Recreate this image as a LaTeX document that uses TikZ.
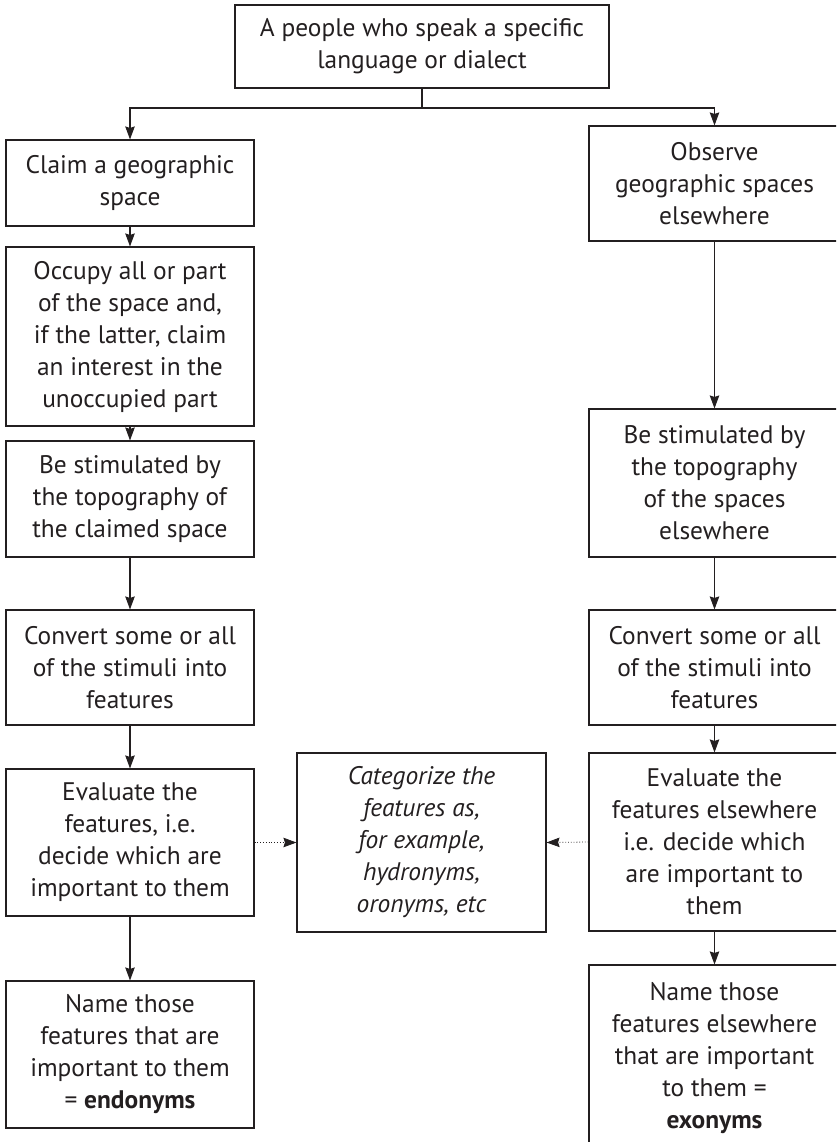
\documentclass[tikz,border=0pt]{standalone}
\usepackage{fontspec}
\setmainfont{PT Sans}
\usetikzlibrary{arrows.meta}
\definecolor{ink}{HTML}{231F20}
\begin{document}
\begin{tikzpicture}[x=1pt,y=-1pt,
  box/.style={draw=ink, line width=1.1pt, rectangle, inner sep=0pt, align=center,
    text=ink, font=\fontsize{25.4}{32}\selectfont, minimum width=248pt},
  rbox/.style={box, minimum width=251pt},
  arr/.style={draw=ink, line width=1.1pt, -{Stealth[length=13pt,width=9.5pt,inset=1.5pt]}},
  dotarr/.style={draw=ink, line width=0.8pt, dotted, -{Stealth[length=13pt,width=9.5pt,inset=1.5pt]}}
]
\useasboundingbox (0,0) rectangle (836,1142);
\clip (0,0) rectangle (836,1142);
% top
\node[box, minimum width=374pt, minimum height=83pt] (top) at (422,46.5)
  {A people who speak a specific\\language or dialect};
\coordinate (br) at (422,108);
% left column
\node[box, minimum height=86pt]  (L1) at (130,183)   {Claim a geographic\\space};
\node[box, minimum height=179pt] (L2) at (130,336.5) {Occupy all or part\\of the space and,\\if the latter, claim\\an interest in the\\unoccupied part};
\node[box, minimum height=116pt] (L3) at (130,499)   {Be stimulated by\\the topography of\\the claimed space};
\node[box, minimum height=115pt] (L4) at (130,667.5) {Convert some or all\\of the stimuli into\\features};
\node[box, minimum height=147pt] (L5) at (130,842.5) {Evaluate the\\features, i.e.\\decide which are\\important to them};
\node[box, minimum height=147pt] (L6) at (130,1054.5) {Name those\\features that are\\important to them\\= \textbf{endonyms}};
% right column
\node[rbox, minimum height=115pt] (R1) at (714.5,183.5) {Observe\\geographic spaces\\elsewhere};
\node[rbox, minimum height=148pt] (R2) at (714.5,483)   {Be stimulated by\\the topography\\of the spaces\\elsewhere};
\node[rbox, minimum height=115pt] (R3) at (714.5,667.5) {Convert some or all\\of the stimuli into\\features};
\node[rbox, minimum height=178pt] (R4) at (714.5,842)   {Evaluate the\\features elsewhere\\i.e. decide which\\are important to\\them};
\node[rbox, minimum height=186pt] (R5) at (714.5,1058)  {Name those\\features elsewhere\\that are important\\to them =\\\textbf{exonyms}};
% centre
\node[box, minimum width=249pt, minimum height=179pt, font=\fontsize{25.4}{32}\selectfont\itshape] (C) at (421.5,842.5)
  {Categorize the\\features as,\\for example,\\hydronyms,\\oronyms, etc};
% connectors
\draw[draw=ink, line width=1.1pt] (top.south) -- (br);
\draw[arr] (br) -| (L1.north);
\draw[arr] (br) -| (R1.north);
\draw[arr] (L1) -- (L2);
\draw[arr] (L2) -- (L3);
\draw[arr] (L3) -- (L4);
\draw[arr] (L4) -- (L5);
\draw[arr] (L5) -- (L6);
\draw[arr] (R1) -- (R2);
\draw[arr] (R2) -- (R3);
\draw[arr] (R3) -- (R4);
\draw[arr] (R4) -- (R5);
\draw[dotarr] (L5.east) -- (C.west);
\draw[dotarr] (R4.west) -- (C.east);
\end{tikzpicture}
\end{document}
